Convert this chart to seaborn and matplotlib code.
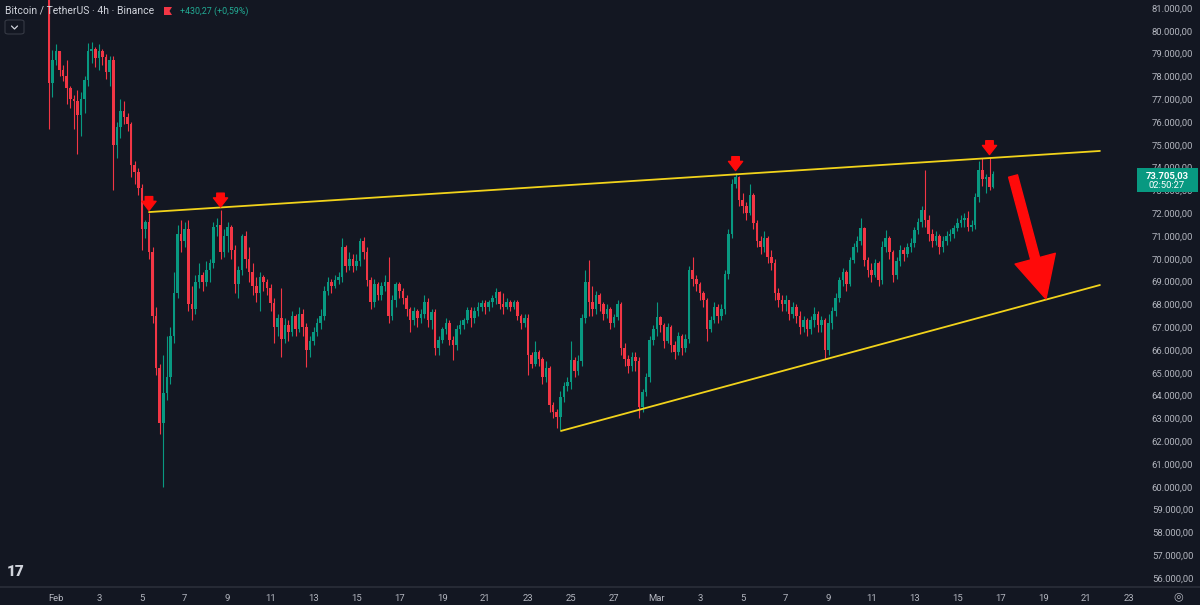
import numpy as np
import pandas as pd
import matplotlib
matplotlib.use("Agg")
import matplotlib.pyplot as plt
import matplotlib.dates as mdates
from matplotlib.patches import Polygon, Rectangle, FancyBboxPatch
from matplotlib.lines import Line2D
import seaborn as sns

# BTC/USDT 4h candles (thousands of USDT), first candle 2026-01-31 16:00
first_open = 81.6
close = [
    77.7, 78.7, 79.1, 78.3, 78.0, 77.5, 77.0, 76.9, 76.3, 77.0,
    77.85, 79.1, 79.2, 78.8, 79.1, 78.85, 78.2, 78.7, 75.0, 75.8,
    76.5, 76.2, 75.9, 74.1, 73.8, 73.1, 71.3, 71.6, 70.3, 67.5,
    65.2, 62.8, 64.1, 64.8, 66.6, 68.5, 71.1, 70.8, 71.3, 68.0,
    67.8, 69.0, 69.3, 69.0, 69.5, 69.8, 71.4, 71.5, 70.3, 71.0,
    71.4, 70.4, 68.9, 69.5, 71.0, 70.0, 69.4, 68.8, 68.5, 69.2,
    69.0, 68.7, 68.05, 67.0, 67.4, 66.5, 67.1, 66.8, 67.5, 66.9,
    67.6, 67.0, 66.0, 66.4, 66.8, 67.2, 67.5, 68.6, 69.0, 68.8,
    69.05, 69.2, 70.5, 69.7, 70.0, 69.7, 69.9, 70.8, 70.3, 69.05,
    68.1, 68.9, 68.4, 68.8, 69.0, 67.5, 68.2, 68.9, 68.6, 68.3,
    67.8, 67.3, 67.7, 67.4, 67.6, 68.1, 67.3, 67.65, 66.1, 66.45,
    66.9, 67.2, 66.45, 66.2, 66.9, 67.1, 67.3, 67.75, 67.4, 67.7,
    67.9, 68.05, 67.9, 68.1, 68.3, 68.55, 68.0, 67.9, 68.1, 67.9,
    68.1, 67.5, 67.2, 67.4, 65.8, 65.4, 65.9, 65.6, 64.8, 65.2,
    63.6, 63.3, 63.05, 63.95, 64.4, 64.6, 65.55, 65.1, 65.5, 67.4,
    69.0, 68.1, 67.8, 68.4, 68.0, 67.6, 67.8, 67.2, 67.45, 68.0,
    66.1, 65.6, 65.3, 65.7, 65.5, 63.5, 64.15, 64.8, 66.45, 66.9,
    67.45, 67.1, 66.4, 67.0, 66.2, 65.9, 66.6, 66.1, 66.5, 69.5,
    69.1, 68.9, 68.5, 68.2, 66.9, 67.3, 67.9, 67.5, 67.8, 69.35,
    71.1, 73.3, 73.6, 72.6, 72.3, 72.0, 72.8, 71.55, 70.8, 70.5,
    70.9, 70.1, 69.8, 68.5, 68.2, 68.0, 68.2, 67.6, 67.9, 67.5,
    67.0, 67.3, 66.9, 67.3, 67.6, 67.1, 67.3, 66.0, 67.2, 67.7,
    68.3, 69.05, 69.4, 68.9, 69.95, 70.5, 70.8, 71.35, 69.95, 69.5,
    69.3, 69.8, 69.05, 70.5, 70.9, 70.3, 69.3, 69.9, 70.4, 70.2,
    70.5, 70.7, 71.25, 71.6, 72.15, 71.7, 71.1, 70.8, 71.0, 70.5,
    70.8, 71.0, 71.1, 71.35, 71.55, 71.7, 71.8, 71.4, 71.5, 72.7,
    73.9, 73.5, 73.6, 73.15, 73.705,
]
high = [
    82.0, 79.15, 79.4, 79.1, 78.5, 78.7, 77.6, 77.2, 77.4, 77.3,
    78.0, 79.45, 79.5, 79.3, 79.4, 79.2, 79.0, 78.9, 78.9, 76.0,
    77.0, 76.9, 76.4, 76.0, 74.3, 74.0, 73.3, 71.7, 72.0, 70.5,
    67.9, 65.4, 65.8, 66.6, 67.0, 69.4, 71.5, 71.7, 71.6, 71.7,
    68.8, 69.3, 69.8, 69.4, 69.9, 70.0, 71.6, 71.8, 72.15, 71.3,
    71.6, 71.5, 70.6, 69.7, 71.1, 71.2, 70.5, 69.8, 69.2, 69.4,
    69.3, 69.1, 68.9, 68.3, 67.6, 68.7, 67.4, 67.3, 67.7, 67.6,
    67.9, 67.8, 67.2, 66.6, 67.0, 67.4, 67.8, 68.8, 69.2, 69.1,
    69.3, 69.4, 70.9, 70.6, 70.3, 70.2, 70.2, 70.9, 70.95, 70.5,
    69.2, 69.1, 69.0, 69.0, 69.3, 70.1, 68.4, 69.0, 69.0, 68.7,
    68.4, 67.9, 67.9, 67.8, 67.8, 68.4, 68.3, 67.8, 67.8, 66.6,
    67.0, 67.4, 67.3, 66.6, 67.1, 67.3, 67.4, 67.9, 67.9, 67.9,
    68.1, 68.2, 68.2, 68.2, 68.4, 68.7, 68.6, 68.5, 68.3, 68.2,
    68.2, 68.2, 67.6, 67.6, 67.6, 65.9, 66.4, 66.0, 65.7, 65.5,
    65.3, 63.7, 63.4, 64.2, 64.6, 64.8, 66.4, 65.7, 65.8, 67.6,
    69.5, 69.95, 68.8, 68.6, 68.5, 68.1, 68.0, 67.9, 67.6, 68.2,
    68.1, 66.3, 65.8, 65.9, 65.9, 65.7, 64.3, 65.0, 66.6, 67.1,
    68.1, 67.5, 67.2, 67.2, 67.1, 66.4, 66.8, 66.7, 66.7, 69.7,
    70.1, 69.3, 69.0, 68.6, 68.3, 67.5, 68.1, 68.0, 68.0, 69.5,
    71.3, 73.5, 73.75, 73.65, 72.9, 72.5, 73.3, 72.9, 71.7, 71.0,
    71.2, 71.0, 70.4, 70.0, 68.7, 68.4, 68.4, 68.2, 68.1, 68.0,
    67.7, 67.5, 67.4, 67.5, 67.9, 67.7, 67.5, 67.4, 67.6, 67.9,
    68.5, 69.2, 69.6, 69.5, 70.1, 70.7, 71.0, 71.8, 71.4, 70.1,
    69.8, 70.0, 69.9, 70.8, 71.25, 71.0, 70.4, 70.1, 70.6, 70.5,
    70.7, 70.9, 71.4, 71.8, 72.3, 73.9, 71.9, 71.3, 71.2, 71.1,
    71.0, 71.2, 71.3, 71.5, 71.8, 71.9, 72.0, 72.1, 71.7, 72.9,
    74.3, 74.4, 73.7, 74.45, 73.85,
]
low = [
    75.7, 77.1, 78.5, 78.0, 77.8, 76.8, 76.6, 75.7, 74.6, 75.4,
    76.4, 77.6, 78.6, 78.4, 78.3, 78.5, 77.9, 77.6, 73.0, 74.4,
    75.3, 75.9, 75.6, 73.6, 73.3, 72.8, 70.4, 70.9, 70.0, 67.2,
    64.9, 62.3, 60.0, 63.8, 64.5, 66.3, 68.3, 70.3, 70.5, 67.7,
    67.3, 67.6, 68.7, 68.6, 68.8, 69.0, 69.6, 71.0, 70.0, 70.1,
    70.3, 70.0, 68.5, 68.3, 69.3, 69.6, 69.0, 68.4, 68.1, 67.7,
    68.6, 68.4, 67.7, 66.3, 66.6, 65.7, 66.3, 66.4, 66.6, 66.6,
    66.8, 66.6, 65.25, 65.7, 66.2, 66.6, 66.9, 67.3, 68.4, 68.5,
    68.7, 68.9, 69.0, 69.4, 69.5, 69.4, 69.5, 69.7, 70.0, 68.8,
    67.8, 67.9, 68.2, 68.2, 68.6, 67.2, 67.3, 67.9, 68.3, 68.0,
    67.5, 66.8, 67.1, 67.0, 67.2, 67.4, 67.0, 66.9, 65.8, 65.8,
    66.3, 66.7, 66.2, 65.55, 66.0, 66.7, 66.9, 67.2, 67.0, 67.2,
    67.5, 67.7, 67.6, 67.7, 67.9, 68.0, 67.8, 67.6, 67.8, 67.7,
    67.8, 67.3, 66.9, 67.0, 64.9, 65.2, 65.3, 65.3, 64.5, 64.6,
    63.3, 63.0, 62.6, 62.5, 63.7, 64.2, 64.3, 64.8, 64.9, 65.3,
    67.2, 67.5, 67.5, 67.6, 67.7, 67.3, 67.4, 66.9, 67.0, 67.3,
    65.8, 65.3, 65.0, 65.1, 65.1, 63.0, 63.3, 64.0, 64.6, 66.2,
    66.6, 66.8, 66.1, 66.3, 65.9, 65.6, 65.8, 65.8, 65.9, 66.3,
    68.8, 68.6, 68.2, 67.9, 66.4, 66.8, 67.2, 67.2, 67.3, 67.6,
    69.1, 70.9, 73.1, 72.3, 72.0, 71.7, 71.9, 71.3, 70.5, 70.2,
    70.3, 69.8, 69.5, 68.2, 67.9, 67.7, 67.7, 67.3, 67.4, 67.2,
    66.7, 66.8, 66.6, 66.7, 67.0, 66.8, 66.8, 65.6, 65.8, 66.9,
    67.5, 68.1, 68.8, 68.6, 68.8, 69.8, 70.3, 70.6, 69.7, 69.2,
    69.0, 69.2, 68.8, 68.9, 70.3, 70.0, 69.0, 69.1, 69.7, 69.9,
    70.1, 70.3, 70.5, 71.1, 71.4, 71.4, 70.8, 70.5, 70.6, 70.2,
    70.3, 70.6, 70.8, 70.9, 71.2, 71.4, 71.4, 71.2, 71.2, 71.3,
    72.5, 73.2, 72.9, 73.0, 73.1,
]

# trend lines drawn on the chart
upper_times = ["2026-02-05 08:00", "2026-03-21 15:30"]
upper_prices = [72050, 74730]
lower_times = ["2026-02-24 12:45", "2026-03-21 15:30"]
lower_prices = [62450, 68850]

# candles marked with small red arrows (index into the candle list)
marked = [28, 48, 192, 263]

# big red arrow (start, tip)
big_arrow_times = ["2026-03-17 14:20", "2026-03-19 03:10"]
big_arrow_prices = [73630, 68240]

last_price_text = "73.705,03"
countdown_text = "02:50:27"
header_text = "Bitcoin / TetherUS · 4h · Binance"
change_text = "+430,27 (+0,59%)"

bg = "#131722"
up_col = "#089981"
down_col = "#f23645"
yellow = "#f2d31b"
txt = "#d1d4dc"
axis_txt = "#b2b5be"

sns.set_theme(style="dark", rc={
    "axes.facecolor": bg, "figure.facecolor": bg, "axes.edgecolor": bg,
    "axes.grid": False, "text.color": txt,
    "xtick.color": axis_txt, "ytick.color": axis_txt,
})
plt.rcParams["font.family"] = ["Roboto", "DejaVu Sans"]

W, H = 1200, 605
fig = plt.figure(figsize=(W / 100, H / 100), dpi=100)
ax = fig.add_axes([0, 18 / H, 1140 / W, 587 / H])


def px(x, y):
    return (x / W, 1 - y / H)


# candles
times = pd.date_range("2026-01-31 16:00", periods=len(close), freq="4h")
x = mdates.date2num(times.to_pydatetime())
c = np.array(close) * 1000
o = np.concatenate([[first_open * 1000], c[:-1]])
hi = np.maximum(np.array(high) * 1000, np.maximum(o, c))
lo = np.minimum(np.array(low) * 1000, np.minimum(o, c))
cols = np.where(c >= o, up_col, down_col)

ax.vlines(x, lo, hi, colors=cols, linewidth=0.8, zorder=2)
body_lo = np.minimum(o, c)
body_h = np.maximum(np.abs(c - o), 35)
ax.bar(x, body_h, bottom=body_lo, width=0.12, color=cols, linewidth=0, zorder=3)

# trend lines with seaborn
trend = pd.DataFrame({
    "t": list(mdates.date2num(pd.to_datetime(upper_times).to_pydatetime()))
         + list(mdates.date2num(pd.to_datetime(lower_times).to_pydatetime())),
    "price": upper_prices + lower_prices,
    "line": ["upper", "upper", "lower", "lower"],
})
sns.lineplot(data=trend, x="t", y="price", units="line", estimator=None,
             color=yellow, linewidth=1.3, ax=ax, zorder=4)

# small red arrows above the touches
for i in marked:
    ax.annotate("", xy=(x[i], hi[i] + 120), xytext=(0, 10), textcoords="offset points",
                arrowprops=dict(arrowstyle="simple,head_length=0.55,head_width=0.85,tail_width=0.45",
                                color="#ff0a0a", shrinkA=0, shrinkB=0),
                zorder=5)

# big red arrow
ba_t = mdates.date2num(pd.to_datetime(big_arrow_times).to_pydatetime())
ax.annotate("", xy=(ba_t[1], big_arrow_prices[1]), xytext=(ba_t[0], big_arrow_prices[0]),
            arrowprops=dict(arrowstyle="simple,head_length=2.5,head_width=2.5,tail_width=0.55",
                            color="#ff0a0a", shrinkA=0, shrinkB=0),
            zorder=5)

# axes limits matching the screen
feb1 = mdates.date2num(pd.Timestamp("2026-02-01").to_pydatetime())
ax.set_xlim(feb1 - 2.6095, feb1 + 50.513)
ax.set_ylim(55605, 81351)

# x ticks
tick_days = pd.date_range("2026-02-01", "2026-02-27", freq="2D").append(
    pd.date_range("2026-03-01", "2026-03-23", freq="2D"))
ax.set_xticks(mdates.date2num(tick_days.to_pydatetime()))
ax.set_xticklabels([d.strftime("%b") if d.day == 1 else str(d.day) for d in tick_days])
ax.tick_params(axis="x", length=0, pad=5, labelsize=6.8, colors=axis_txt)

# y ticks (price scale on the right)
yt = np.arange(56000, 82000, 1000)
ax.yaxis.tick_right()
ax.set_yticks(yt)
ax.set_yticklabels([f"{v:,.2f}".replace(",", "X").replace(".", ",").replace("X", ".") for v in yt])
ax.tick_params(axis="y", length=0, pad=8.5, labelsize=6.8, colors=axis_txt)
ax.set_xlabel("")
ax.set_ylabel("")
for s in ax.spines.values():
    s.set_visible(False)

# separator above time scale
fig.add_artist(Line2D([0, 1], [18 / H, 18 / H], transform=fig.transFigure,
                      color="#2a2e39", linewidth=1.2))

# last price label
fig.add_artist(Rectangle(px(1137, 192), 61 / W, 24 / H, transform=fig.transFigure,
                         facecolor=up_col, edgecolor="none", zorder=10))
fig.text(*px(1167, 176), last_price_text, ha="center", va="center", size=6.8,
         color="white", weight="bold", zorder=11)
fig.text(*px(1167, 186), countdown_text, ha="center", va="center", size=6.8,
         color="white", zorder=11)

# header
fig.text(*px(5, 11), header_text, ha="left", va="center", size=7.5, color=txt)
fig.add_artist(Polygon([px(164, 7), px(172, 7), px(169.5, 11), px(172, 15), px(164, 15)],
                       closed=True, transform=fig.transFigure, facecolor=down_col,
                       edgecolor="none"))
fig.text(*px(180, 11.5), change_text, ha="left", va="center", size=6.4, color="#22ab94")
fig.add_artist(FancyBboxPatch(px(5, 34), 19 / W, 14 / H, boxstyle="round,pad=0,rounding_size=0.003",
                              transform=fig.transFigure, facecolor=bg, edgecolor="#363a45",
                              linewidth=0.8))
fig.add_artist(Line2D([11.5 / W, 14.5 / W, 17.5 / W], [1 - 26 / H, 1 - 29 / H, 1 - 26 / H],
                      transform=fig.transFigure, color=txt, linewidth=0.9))

# logo and settings icon
fig.text(*px(7, 572), "17", ha="left", va="center", size=11, weight="heavy", color=txt)
fig.text(*px(1178, 596), "◎", ha="center", va="center", size=8, color=axis_txt,
         family=["DejaVu Sans"])

fig.savefig("out.png", dpi=100, facecolor=bg)
